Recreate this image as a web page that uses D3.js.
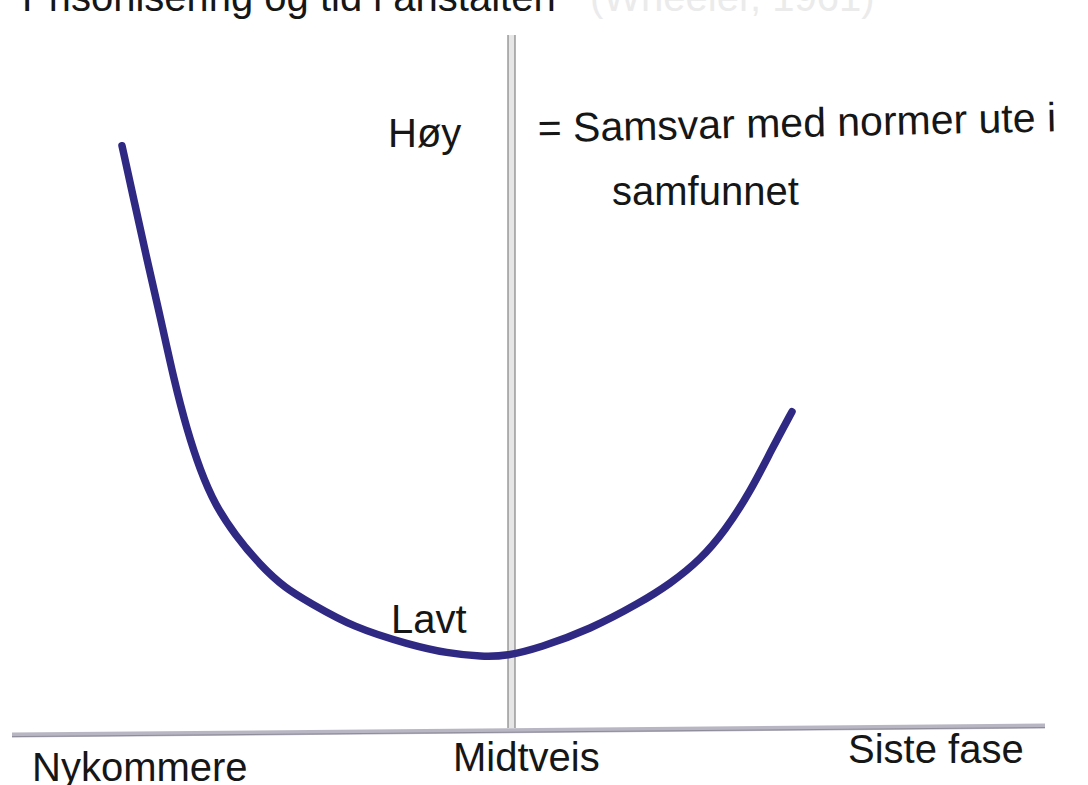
<!DOCTYPE html>
<html>
<head>
<meta charset="utf-8">
<script src="https://cdn.jsdelivr.net/npm/d3@7"></script>
<style>
  html, body { margin: 0; padding: 0; background: #fff; overflow: hidden; }
  svg { display: block; }
  text { font-family: "Liberation Sans", Arial, sans-serif; fill: #161616; }
</style>
</head>
<body>
<svg id="chart" width="1088" height="785"></svg>
<script>
// ---------- data ----------
// time in the institution (0 = arrival, 50 = midway) and level of conformity to outside norms (0-100)
const curveTime  = [11.0, 12.2, 13.5, 14.9, 16.2, 17.5, 18.8, 20.3, 22.3, 24.8, 27.3, 29.8, 34.1, 39.8, 43.5, 47.0, 49.5, 52.8, 57.8, 62.8, 65.8, 68.8, 71.3, 73.8, 76.0, 78.0];
const curveLevel = [83.9, 76.1, 67.6, 59.0, 50.4, 43.3, 37.6, 32.6, 28.3, 24.0, 20.7, 18.6, 15.1, 12.6, 11.4, 10.9, 11.0, 12.2, 14.8, 18.6, 21.3, 24.7, 28.9, 34.4, 40.6, 45.9];

const phaseLabels = ["Nykommere", "Midtveis", "Siste fase"];
const levelLabels = ["Høy", "Lavt"];
const legendLines = ["= Samsvar med normer ute i", "samfunnet"];
const titleText   = "Prisonisering og tid i anstalten";
const sourceText  = "(Wheeler, 1961)";

// ---------- layout ----------
const W = 1088, H = 785;
const svg = d3.select("#chart");

const x = d3.scaleLinear().domain([0, 103.3]).range([12, 1045]);
const y = d3.scaleLinear().domain([0, 100]).range([733, 33]);

// label anchors (time / level units) – hand placed like the sketch
const phasePos  = [[2, -6.9], [44.1, -5.4], [83.6, -4.3]];
const levelPos  = [[37.6, 83.7], [37.9, 14.3]];
const legendPos = [[52.6, 84.4], [60, 75.4]];

// ---------- title (clipped at top of the page) ----------
svg.append("text")
  .attr("x", 22).attr("y", 11)
  .attr("font-size", 40)
  .text(titleText);

svg.append("text")
  .attr("x", 590).attr("y", 11)
  .attr("font-size", 40)
  .style("fill", "#ebebeb")
  .text(sourceText);

// ---------- axes (pencil lines) ----------
// horizontal time axis, slightly slanted
const hAxis = [[0, -0.3], [103.3, 1.0]];
svg.append("path")
  .attr("d", d3.line().x(d => x(d[0])).y(d => y(d[1]))(hAxis))
  .attr("stroke", "#b8b6c2").attr("stroke-width", 5).attr("fill", "none");
svg.append("path")
  .attr("d", d3.line().x(d => x(d[0])).y(d => y(d[1]) + 1.5)(hAxis))
  .attr("stroke", "#8e8c98").attr("stroke-width", 1).attr("fill", "none");

// vertical level axis at midway, a double line
svg.append("rect")
  .attr("x", x(50) - 4).attr("y", y(99.7))
  .attr("width", 7).attr("height", y(0.7) - y(99.7))
  .attr("fill", "#e6e6e6");
[-4, 3].forEach(off => {
  svg.append("line")
    .attr("x1", x(50) + off).attr("x2", x(50) + off)
    .attr("y1", y(99.7)).attr("y2", y(0.7))
    .attr("stroke", "#8c8c8c").attr("stroke-width", 1.3);
});

// ---------- curve ----------
const pts = curveTime.map((t, i) => [t, curveLevel[i]]);
svg.append("path")
  .attr("d", d3.line()
    .x(d => x(d[0])).y(d => y(d[1]))
    .curve(d3.curveBasis)(pts))
  .attr("fill", "none")
  .attr("stroke", "#2f2983")
  .attr("stroke-width", 7.5)
  .attr("stroke-linecap", "round")
  .attr("stroke-linejoin", "round");

// ---------- labels ----------
svg.selectAll(".phase")
  .data(phaseLabels)
  .enter().append("text")
  .attr("class", "phase")
  .attr("x", (d, i) => x(phasePos[i][0]))
  .attr("y", (d, i) => y(phasePos[i][1]))
  .attr("font-size", 40)
  .text(d => d);

svg.selectAll(".level")
  .data(levelLabels)
  .enter().append("text")
  .attr("class", "level")
  .attr("x", (d, i) => x(levelPos[i][0]))
  .attr("y", (d, i) => y(levelPos[i][1]))
  .attr("font-size", 40)
  .text(d => d);

svg.selectAll(".legend")
  .data(legendLines)
  .enter().append("text")
  .attr("class", "legend")
  .attr("x", (d, i) => x(legendPos[i][0]))
  .attr("y", (d, i) => y(legendPos[i][1]))
  .attr("font-size", (d, i) => i === 0 ? 41 : 40)
  .attr("transform", (d, i) => i === 0 ? `rotate(-1.2 ${x(legendPos[i][0])} ${y(legendPos[i][1])})` : null)
  .text(d => d);
</script>
</body>
</html>
